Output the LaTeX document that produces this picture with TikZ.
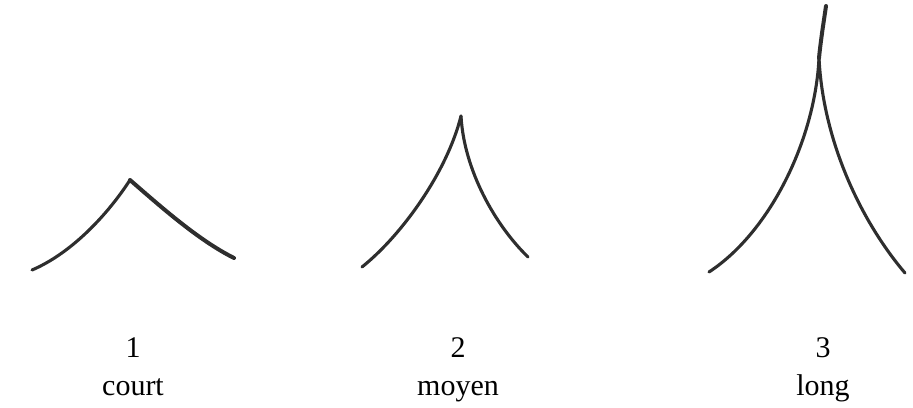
\documentclass[tikz,border=0pt]{standalone}
\usepackage{fontspec}
\setmainfont{Liberation Serif}
\begin{document}
\begin{tikzpicture}[x=1pt,y=-1pt,
  stroke/.style={draw=black!82,line width=3.1pt,line cap=round,line join=round},
  thick stroke/.style={stroke,line width=4pt},
  lbl/.style={font=\fontsize{30}{37}\selectfont,anchor=base,inner sep=0pt}]
\useasboundingbox (0,0) rectangle (913,407);
% shape 1: court
\coordinate (a1) at (32,270);
\coordinate (t1) at (130,180);
\coordinate (b1) at (234,258);
\draw[stroke] (a1) .. controls (72,253) and (108,214) .. (t1);
\draw[thick stroke] (t1) .. controls (160,206) and (198,240) .. (b1);
% shape 2: moyen
\coordinate (a2) at (362,267);
\coordinate (t2) at (461,116);
\coordinate (b2) at (528,257);
\draw[stroke] (a2) .. controls (402,235) and (447,172) .. (t2);
\draw[stroke] (t2) .. controls (464,170) and (495,225) .. (b2);
% shape 3: long
\coordinate (a3) at (709,272);
\coordinate (t3) at (819,58);
\coordinate (top3) at (826,6);
\coordinate (b3) at (905,273);
\draw[stroke] (a3) .. controls (770,232) and (815,140) .. (t3);
\draw[stroke] (t3) .. controls (823,140) and (860,220) .. (b3);
\draw[thick stroke] (t3) .. controls (821,38) and (824,20) .. (top3);
% labels
\node[lbl] (n1) at (133,357) {1};
\node[lbl] (l1) at (133,395) {court};
\node[lbl] (n2) at (458,357) {2};
\node[lbl] (l2) at (458,395) {moyen};
\node[lbl] (n3) at (823,357) {3};
\node[lbl] (l3) at (823,395) {long};
\end{tikzpicture}
\end{document}
